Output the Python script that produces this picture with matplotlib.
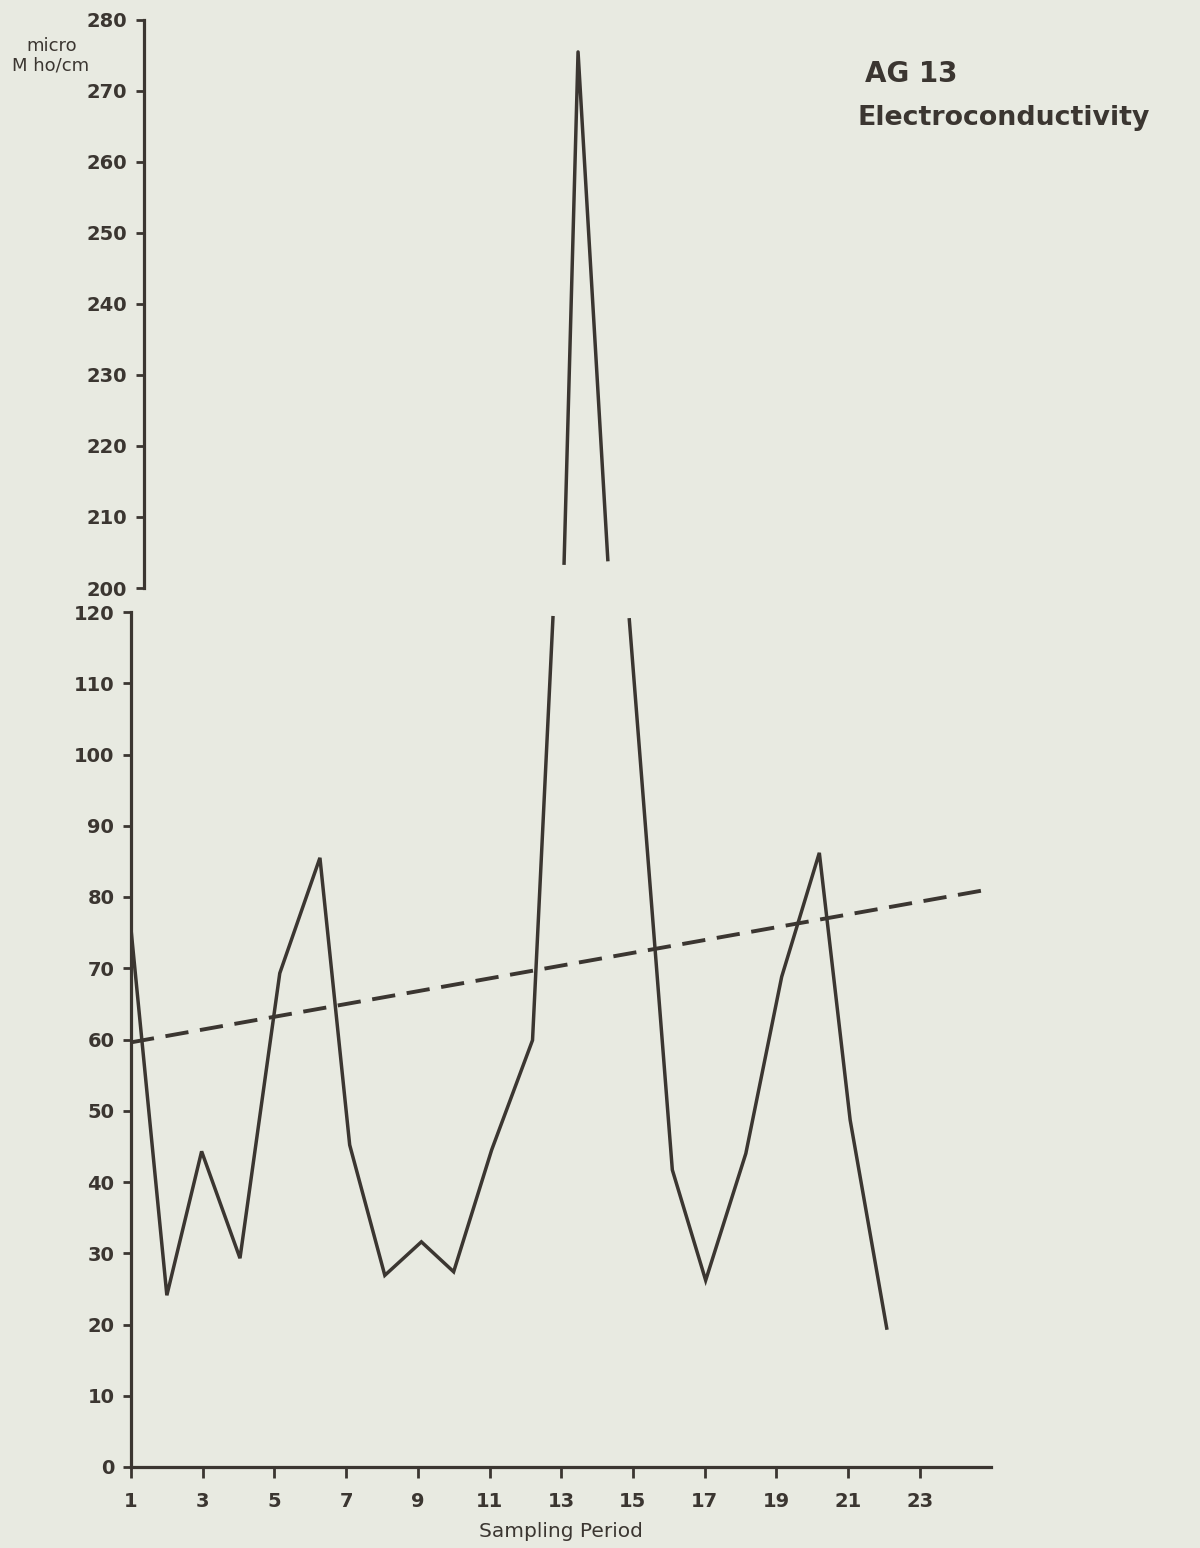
import numpy as np
import matplotlib
matplotlib.use("Agg")
import matplotlib.pyplot as plt

# ---- data ----
# main trace (lower, 0-120 part of the broken axis); nan = where the trace leaves the scale
lower_x = [1.0, 2.0, 2.97, 4.04, 5.15, 6.27, 7.1, 8.08, 9.1, 10.0, 11.06, 12.2, 12.77,
           np.nan, 14.9, 16.1, 17.03, 18.15, 19.15, 20.2, 21.06, 22.08]
lower_y = [75.5, 24.1, 44.3, 29.3, 69.3, 85.5, 45.2, 26.9, 31.6, 27.4, 44.5, 59.9, 119.2,
           np.nan, 118.9, 41.7, 26.2, 44.0, 68.8, 86.2, 48.7, 19.5]

# spike drawn on the upper (200-280) part
upper_x = [13.08, 13.47, 14.3]
upper_y = [203.5, 275.5, 204.0]

# dashed trend line
trend_x = [1.0, 24.85]
trend_y = [59.6, 81.0]

xticks = list(range(1, 24, 2))
lower_yticks = list(range(0, 121, 10))
upper_yticks = list(range(200, 281, 10))

paper = "#e8eae1"
ink = "#3b3631"
font = "DejaVu Sans"

W, H = 1200, 1548
fig = plt.figure(figsize=(W / 100, H / 100), dpi=100, facecolor=paper)

def box(left, top, right, bottom):
    # pixel box -> figure fraction
    return [left / W, 1 - bottom / H, (right - left) / W, (bottom - top) / H]

px_per_unit = 35.85
x_right = 131 + 24 * px_per_unit

ax_lo = fig.add_axes(box(131, 612, x_right, 1467))
ax_hi = fig.add_axes(box(144, 20, x_right, 588))

for ax in (ax_lo, ax_hi):
    ax.set_facecolor("none")
    ax.spines["top"].set_visible(False)
    ax.spines["right"].set_visible(False)
    ax.spines["left"].set_linewidth(2.3)
    ax.spines["left"].set_color(ink)
    ax.tick_params(axis="y", direction="out", length=6, width=2.0, color=ink,
                   labelsize=14, labelcolor=ink, pad=6)

# lower part
ax_lo.plot(lower_x, lower_y, color=ink, lw=2.5, solid_joinstyle="miter")
ax_lo.plot(trend_x, trend_y, color=ink, lw=2.8, dashes=(6, 3))
ax_lo.set_xlim(1, 25)
ax_lo.set_ylim(0, 120)
ax_lo.set_xticks(xticks)
ax_lo.set_yticks(lower_yticks)
ax_lo.spines["bottom"].set_linewidth(2.3)
ax_lo.spines["bottom"].set_color(ink)
ax_lo.tick_params(axis="x", direction="out", length=8, width=2.0, color=ink,
                  labelsize=14, labelcolor=ink, pad=10)
ax_lo.set_xlabel("Sampling Period", fontsize=14.5, color=ink, labelpad=8,
                 fontfamily=font)

# upper part (broken axis)
ax_hi.plot(upper_x, upper_y, color=ink, lw=2.5, solid_joinstyle="round")
ax_hi.set_xlim(1 + 13 / px_per_unit, 25)
ax_hi.set_ylim(200, 280)
ax_hi.set_yticks(upper_yticks)
ax_hi.spines["bottom"].set_visible(False)
ax_hi.set_xticks([])

for ax in (ax_lo, ax_hi):
    for lab in ax.get_xticklabels() + ax.get_yticklabels():
        lab.set_fontfamily(font)
        lab.set_fontweight("bold")

# texts
fig.text(52 / W, 1 - 46 / H, "micro", ha="center", va="center", fontsize=13,
         color=ink, fontfamily=font)
fig.text(51 / W, 1 - 66 / H, "M ho/cm", ha="center", va="center", fontsize=13,
         color=ink, fontfamily=font)
fig.text(865 / W, 1 - 74 / H, "AG 13", ha="left", va="center", fontsize=20,
         color=ink, fontfamily=font, fontweight="bold")
fig.text(858 / W, 1 - 118 / H, "Electroconductivity", ha="left", va="center",
         fontsize=19.3, color=ink, fontfamily=font, fontweight="bold")

fig.savefig("out.png", dpi=100, facecolor=paper)
